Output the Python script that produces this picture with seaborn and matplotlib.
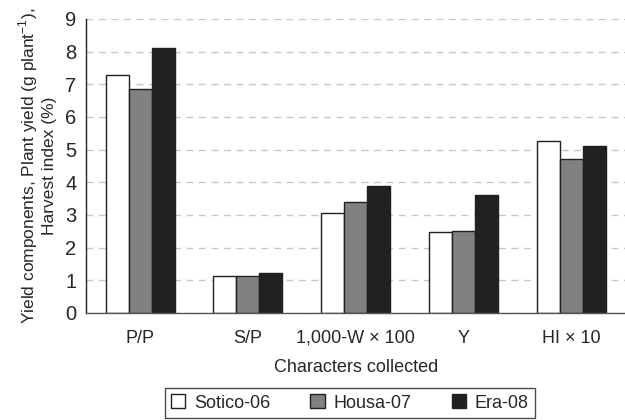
import numpy as np
import pandas as pd
import matplotlib
matplotlib.use('Agg')
import matplotlib.pyplot as plt
import seaborn as sns

# Data
categories = ['P/P', 'S/P', '1,000-W × 100', 'Y', 'HI × 10']
cultivars = ['Sotico-06', 'Housa-07', 'Era-08']
sotico = [7.27, 1.12, 3.06, 2.48, 5.25]
housa = [6.85, 1.12, 3.39, 2.51, 4.72]
era = [8.11, 1.22, 3.88, 3.61, 5.10]

colors = ['#ffffff', '#808184', '#231f20']

sns.set_style('white')
plt.rcParams['font.family'] = ['Liberation Sans Narrow', 'Liberation Sans', 'DejaVu Sans']
plt.rcParams['mathtext.fontset'] = 'custom'
plt.rcParams['mathtext.rm'] = 'Liberation Sans'

df = pd.DataFrame({
    'cat': categories * 3,
    'cultivar': [c for c in cultivars for _ in categories],
    'value': sotico + housa + era,
})

fig = plt.figure(figsize=(6.25, 4.2), dpi=100)
ax = fig.add_axes([0.138, 0.255, 0.862, 0.70])

sns.barplot(data=df, x='cat', y='value', hue='cultivar', order=categories,
            hue_order=cultivars, palette=colors, width=0.64, gap=0,
            edgecolor='#231f20', linewidth=1.0, ax=ax, legend=False)

ax.set_ylim(0, 9)
ax.set_xlim(-0.5, len(categories) - 0.5)
ax.set_yticks(range(0, 10))
ax.yaxis.grid(True, linestyle=(0, (5, 4)), color='#c8c8c8', linewidth=1.0)
ax.set_axisbelow(True)

for s in ['top', 'right']:
    ax.spines[s].set_visible(False)
ax.spines['left'].set_color('#231f20')
ax.spines['bottom'].set_color('#555555')
ax.spines['left'].set_linewidth(1.0)
ax.spines['bottom'].set_linewidth(1.0)

ax.tick_params(axis='y', labelsize=14.5, length=4, width=1, direction='out', color='#231f20', pad=3)
ax.tick_params(axis='x', which='major', labelsize=13, length=0, pad=12)
ax.set_xticks(np.arange(-0.5, len(categories)), minor=True)
ax.tick_params(axis='x', which='minor', length=6, width=1.5, direction='inout', color='#231f20')

ax.set_xlabel('Characters collected', fontsize=13, labelpad=9)
ax.set_ylabel('Yield components, Plant yield (g plant$^{\\mathregular{-1}}$),\nHarvest index (%)',
              fontsize=12.5, labelpad=6, linespacing=1.2)

handles = [plt.Rectangle((0, 0), 1, 1, facecolor=c, edgecolor='#231f20', linewidth=1.0) for c in colors]
leg = fig.legend(handles, cultivars, loc='upper center', bbox_to_anchor=(0.56, 0.076), ncol=3,
                 frameon=True, fancybox=False, edgecolor='#231f20', fontsize=13,
                 handlelength=0.8, handleheight=0.8, columnspacing=2.2, handletextpad=0.5,
                 borderpad=0.35, borderaxespad=0)
leg.get_frame().set_linewidth(1.0)

fig.savefig('out.png', dpi=100)
